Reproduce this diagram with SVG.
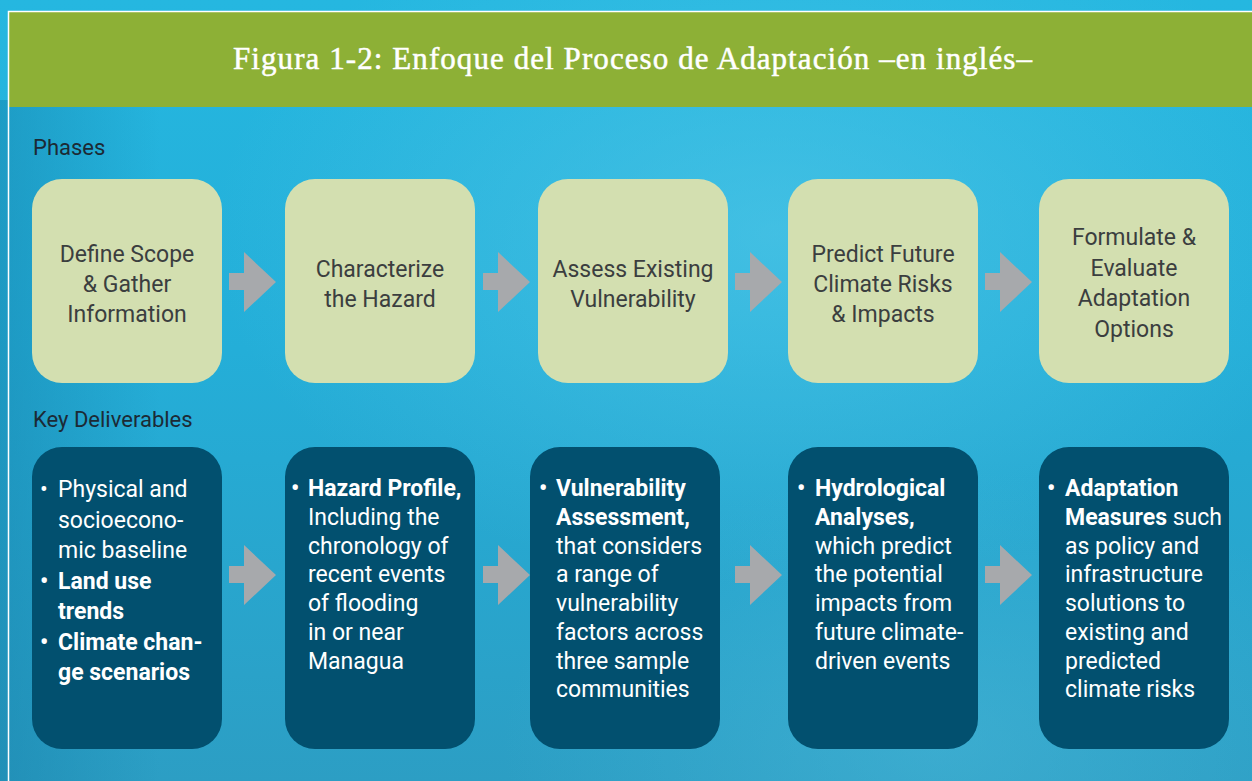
<svg xmlns="http://www.w3.org/2000/svg" width="1252" height="781" viewBox="0 0 1252 781">
<defs>
<linearGradient id="bg" x1="0" y1="0" x2="0" y2="1">
<stop offset="0" stop-color="#25b7e0"/>
<stop offset="0.45" stop-color="#24aed8"/>
<stop offset="1" stop-color="#2c9ec4"/>
</linearGradient>
<radialGradient id="hl" cx="0.62" cy="0.3" r="0.45">
<stop offset="0" stop-color="#5acbea" stop-opacity="0.55"/>
<stop offset="1" stop-color="#5acbea" stop-opacity="0"/>
</radialGradient>
<radialGradient id="hl2" cx="0.75" cy="0.95" r="0.35">
<stop offset="0" stop-color="#4fbcdc" stop-opacity="0.45"/>
<stop offset="1" stop-color="#4fbcdc" stop-opacity="0"/>
</radialGradient>
<linearGradient id="lside" x1="0" y1="0" x2="1" y2="0">
<stop offset="0" stop-color="#157fa8" stop-opacity="0.45"/>
<stop offset="1" stop-color="#157fa8" stop-opacity="0"/>
</linearGradient>
<polygon id="arrow" points="0,21 15,21 15,0 47,30 15,60 15,38 0,38"/>
</defs>
<style>
.phase{fill:#d3dfb0}
.deliv{fill:#02506f}
.arr{fill:#a7a9ac}
.ptxt{font-family:Roboto,"Liberation Sans",sans-serif;font-size:23px;fill:#3b3e3f;text-anchor:middle}
.dtxt{font-family:Roboto,"Liberation Sans",sans-serif;font-size:23px;fill:#ffffff}
.b{font-weight:bold}
.lbl{font-family:Roboto,"Liberation Sans",sans-serif;font-size:22px;fill:#1c2a35}
.title{font-family:"Liberation Serif",serif;font-size:31px;fill:#ffffff;stroke:#ffffff;stroke-width:0.5}
</style>
<rect x="0" y="0" width="1252" height="781" fill="url(#bg)"/>
<rect x="0" y="0" width="1252" height="781" fill="url(#hl)"/>
<rect x="0" y="0" width="1252" height="781" fill="url(#hl2)"/>
<rect x="0" y="100" width="160" height="681" fill="url(#lside)"/>
<g id="frame">
<rect x="9" y="12" width="1243" height="95" fill="#8db036"/>
<path d="M8.5,781 V11.5 H1252" fill="none" stroke="#ffffff" stroke-width="1.5"/>
<text class="title" x="233" y="69" textLength="799">Figura 1-2: Enfoque del Proceso de Adaptación –en inglés–</text>
</g>
<text class="lbl" x="33" y="155">Phases</text>
<text class="lbl" x="33" y="427">Key Deliverables</text>

<g id="phase1"><rect class="phase" x="32" y="179" width="190" height="204" rx="30"/>
<text class="ptxt" x="127" y="262">Define Scope</text><text class="ptxt" x="127" y="292">&amp; Gather</text><text class="ptxt" x="127" y="322">Information</text></g>
<g id="phase2"><rect class="phase" x="285" y="179" width="190" height="204" rx="30"/>
<text class="ptxt" x="380" y="277">Characterize</text><text class="ptxt" x="380" y="307">the Hazard</text></g>
<g id="phase3"><rect class="phase" x="538" y="179" width="190" height="204" rx="30"/>
<text class="ptxt" x="633" y="277">Assess Existing</text><text class="ptxt" x="633" y="307">Vulnerability</text></g>
<g id="phase4"><rect class="phase" x="788" y="179" width="190" height="204" rx="30"/>
<text class="ptxt" x="883" y="262">Predict Future</text><text class="ptxt" x="883" y="292">Climate Risks</text><text class="ptxt" x="883" y="322">&amp; Impacts</text></g>
<g id="phase5"><rect class="phase" x="1039" y="179" width="190" height="204" rx="30"/>
<text class="ptxt" x="1134" y="245">Formulate &amp;</text><text class="ptxt" x="1134" y="275.5">Evaluate</text><text class="ptxt" x="1134" y="306">Adaptation</text><text class="ptxt" x="1134" y="336.5">Options</text></g>

<g id="deliv1"><rect class="deliv" x="32" y="447" width="190" height="302" rx="30"/>
<text class="dtxt" x="40" y="497">•</text>
<text class="dtxt" x="58" y="497">Physical and</text>
<text class="dtxt" x="58" y="527.5">socioecono-</text>
<text class="dtxt" x="58" y="558">mic baseline</text>
<text class="dtxt b" x="40" y="588.5">•</text>
<text class="dtxt b" x="58" y="588.5">Land use</text>
<text class="dtxt b" x="58" y="619">trends</text>
<text class="dtxt b" x="40" y="649.5">•</text>
<text class="dtxt b" x="58" y="649.5">Climate chan-</text>
<text class="dtxt b" x="58" y="680">ge scenarios</text></g>

<g id="deliv2"><rect class="deliv" x="285" y="447" width="190" height="302" rx="30"/>
<text class="dtxt b" x="291" y="496">•</text>
<text class="dtxt b" x="308" y="496">Hazard Profile,</text>
<text class="dtxt" x="308" y="525">Including the</text>
<text class="dtxt" x="308" y="553.5">chronology of</text>
<text class="dtxt" x="308" y="582">recent events</text>
<text class="dtxt" x="308" y="611">of flooding</text>
<text class="dtxt" x="308" y="640">in or near</text>
<text class="dtxt" x="308" y="668.5">Managua</text></g>

<g id="deliv3"><rect class="deliv" x="530" y="447" width="190" height="302" rx="30"/>
<text class="dtxt b" x="539" y="496">•</text>
<text class="dtxt b" x="556" y="496">Vulnerability</text>
<text class="dtxt b" x="556" y="525">Assessment,</text>
<text class="dtxt" x="556" y="553.5">that considers</text>
<text class="dtxt" x="556" y="582">a range of</text>
<text class="dtxt" x="556" y="611">vulnerability</text>
<text class="dtxt" x="556" y="640">factors across</text>
<text class="dtxt" x="556" y="668.5">three sample</text>
<text class="dtxt" x="556" y="697">communities</text></g>

<g id="deliv4"><rect class="deliv" x="788" y="447" width="190" height="302" rx="30"/>
<text class="dtxt b" x="797" y="496">•</text>
<text class="dtxt b" x="815" y="496">Hydrological</text>
<text class="dtxt b" x="815" y="525">Analyses,</text>
<text class="dtxt" x="815" y="553.5">which predict</text>
<text class="dtxt" x="815" y="582">the potential</text>
<text class="dtxt" x="815" y="611">impacts from</text>
<text class="dtxt" x="815" y="640">future climate-</text>
<text class="dtxt" x="815" y="668.5">driven events</text></g>

<g id="deliv5"><rect class="deliv" x="1039" y="447" width="190" height="302" rx="30"/>
<text class="dtxt b" x="1047" y="496">•</text>
<text class="dtxt b" x="1065" y="496">Adaptation</text>
<text class="dtxt" x="1065" y="525"><tspan class="b">Measures</tspan> such</text>
<text class="dtxt" x="1065" y="553.5">as policy and</text>
<text class="dtxt" x="1065" y="582">infrastructure</text>
<text class="dtxt" x="1065" y="611">solutions to</text>
<text class="dtxt" x="1065" y="640">existing and</text>
<text class="dtxt" x="1065" y="668.5">predicted</text>
<text class="dtxt" x="1065" y="697">climate risks</text></g>

<g id="connectors" class="arr">
<use href="#arrow" x="229" y="252"/>
<use href="#arrow" x="483" y="252"/>
<use href="#arrow" x="735" y="252"/>
<use href="#arrow" x="985" y="252"/>
<use href="#arrow" x="229" y="545"/>
<use href="#arrow" x="483" y="545"/>
<use href="#arrow" x="735" y="545"/>
<use href="#arrow" x="985" y="545"/>
</g>
</svg>
